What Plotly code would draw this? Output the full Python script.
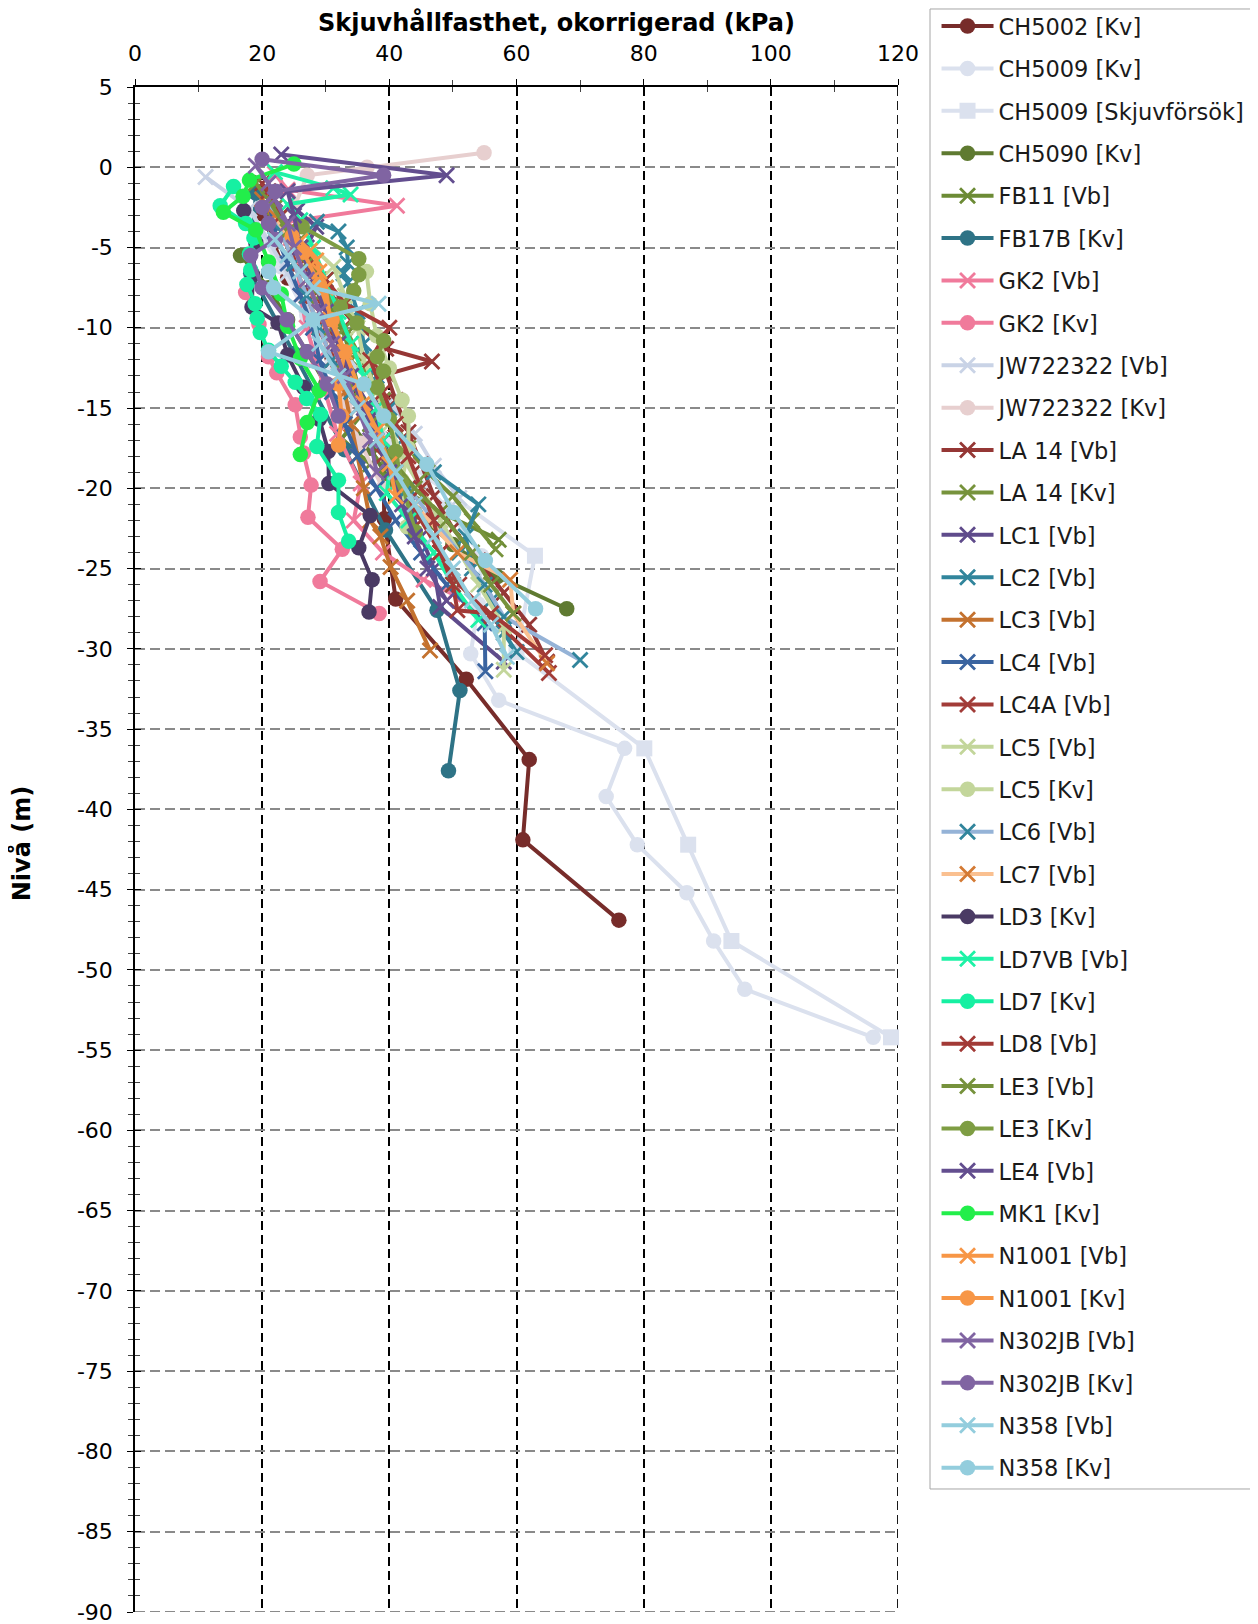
import plotly.graph_objects as go

# ---------------- data (Nivå in m, skjuvhållfasthet in kPa) ----------------
ch5002_kv_niva = [-2.9, -6.9, -11.9, -16.9, -21.9, -26.9, -31.9, -36.9, -41.9, -46.9]
ch5002_kv_tau = [20, 24, 31, 39, 39.2, 41, 52.1, 62, 61, 76.1]

ch5009_kv_niva = [-3.2, -6.2, -9.2, -12.2, -15.2, -18.2, -21.2, -24.2, -27.2, -30.3, -33.2, -36.2,
                  -39.2, -42.2, -45.2, -48.2, -51.2, -54.2]
ch5009_kv_tau = [18, 23, 27, 31, 36, 42, 49, 54.5, 54, 52.8, 57.2, 77, 74.1, 79, 86.8, 91, 95.9, 116.1]

ch5009_skj_niva = [-12.2, -18.2, -24.2, -30.2, -36.2, -42.2, -48.2, -54.2]
ch5009_skj_tau = [32, 42, 62.9, 60, 80.1, 87, 93.8, 118.9]

ch5090_kv_niva = [-5.5, -7.5, -9.5, -11.5, -13.5, -15.5, -17.5, -19.5, -21.5, -23.5, -25.5, -27.5]
ch5090_kv_tau = [16.6, 21, 24, 27, 30, 33, 37, 40, 44, 50, 57, 67.9]

fb11_vb_niva = [-1.5, -3, -4.5, -6, -7.5, -9, -10.5, -12, -13.5, -15, -16.9, -18.5, -20, -21.5, -23.2]
fb11_vb_tau = [20, 23, 26, 28, 30, 31, 33, 34, 35, 36.5, 32.5, 37, 42, 48, 57.2]

fb17b_kv_niva = [-1.6, -6.6, -11.6, -17.6, -22.6, -27.6, -32.6, -37.6]
fb17b_kv_tau = [19, 18.2, 25, 33, 39.4, 47.5, 51.1, 49.3]

gk2_vb_niva = [-0.4, -1.4, -2.4, -3.4, -4.4, -6, -8, -10, -12, -14, -16.6, -19.7, -22, -24, -25.7, -26.6]
gk2_vb_tau = [22, 24, 41.2, 24, 24.5, 25.5, 26, 27, 28.5, 30, 31.8, 35.5, 34.4, 39, 45.4, 50]

gk2_kv_niva = [-7.8, -9.8, -11.8, -12.8, -14.8, -16.8, -17.8, -19.8, -21.8, -23.8, -25.8, -27.8]
gk2_kv_tau = [17.4, 19.5, 21, 22.3, 25.2, 26, 26.5, 27.7, 27.2, 32.6, 29.1, 38.4]

jw722322_vb_niva = [-0.6, -2.6, -4.6, -6.6, -8.6, -10.6, -12.6, -14.6, -16.6, -18.6, -20.6]
jw722322_vb_tau = [11.1, 18, 21, 24, 27, 31, 35, 40, 44, 47, 51]

jw722322_kv_niva = [0.9, 0, -0.5, -2.5, -5, -7.5, -10, -12.5, -15, -17.2, -20]
jw722322_kv_tau = [54.9, 36.5, 27.1, 25, 26, 28, 30, 32, 33, 35.5, 39]

la14_vb_niva = [-1, -3, -5, -7, -9.5, -11.3, -12.1, -12.9, -14.5, -16.5, -18.5, -20.5, -22.5, -24.5,
                -26.5, -28.5, -30.8]
la14_vb_tau = [20, 22, 25, 29, 34, 39.5, 46.7, 39.6, 41, 43, 45, 47, 50, 54, 58, 62, 64.8]

la14_kv_niva = [-1, -2.5, -4, -5.5, -7, -8.5, -10, -11.5, -13, -14.5, -16, -17.5, -19, -20.5, -22, -23.8]
la14_kv_tau = [19, 22, 25, 27, 29, 31, 33, 35, 37, 39, 41, 43, 46, 50, 53, 56.7]

lc1_vb_niva = [-2.7, -3.7, -5, -7, -9, -11, -13, -15, -17, -19, -21, -23, -25, -27.4, -30.8]
lc1_vb_tau = [25.5, 28.5, 27, 28, 30, 32, 34, 37, 39, 41, 43, 45, 47, 48, 58]

lc2_vb_niva = [-3.4, -4, -5, -6, -6.6, -7.2, -9, -11, -13, -15, -17, -19, -21, -23, -25, -27, -29, -30.2]
lc2_vb_tau = [28.6, 32, 33.3, 33.5, 32.8, 33.5, 35, 36, 38, 40, 42, 47, 54, 52, 53, 56, 58, 60]

lc3_vb_niva = [-2, -4, -6, -8, -10, -12, -14, -16, -18, -20, -22, -23, -24.9, -27, -30.1]
lc3_vb_tau = [20, 23, 25, 27, 29, 31, 33, 34, 35, 36, 37, 38.6, 40.2, 42.8, 46.4]

lc4_vb_niva = [-2, -4, -6, -8, -10, -12, -14, -16, -18, -20, -22, -24, -26, -28.4, -31.4]
lc4_vb_tau = [21, 22, 24, 26, 28, 29, 31, 33, 35, 38, 41, 45, 49, 55, 55.1]

lc4a_vb_niva = [-2, -4, -6, -8, -10, -12, -14, -16, -18, -20, -22, -24, -26, -28, -31.5]
lc4a_vb_tau = [22, 24, 26, 28, 30, 32, 35, 37, 39, 42, 45, 48, 51, 56, 65.1]

lc5_vb_niva = [-5, -6.2, -8, -10, -12, -14, -16, -18, -20, -22, -24, -26, -28.6, -31.3]
lc5_vb_tau = [28, 31.2, 33, 35, 36, 38, 40, 42, 45, 48, 51, 54, 58, 58]

lc5_kv_niva = [-6.5, -8.5, -10.5, -12.5, -14.5, -15.5, -17.5, -19.5, -22.4]
lc5_kv_tau = [36.4, 37, 38, 40, 42, 43, 43, 42, 42.8]

lc6_vb_niva = [-2, -4, -6, -8, -10, -12, -14, -16, -18, -20, -22, -24, -26, -28, -30.7]
lc6_vb_tau = [21, 23, 25, 27, 29, 31, 34, 37, 40, 43, 47, 51, 55, 58, 70]

lc7_vb_niva = [-3, -5, -7, -9, -11, -13, -15, -17, -19, -21, -24, -25.7, -27.8, -30.9]
lc7_vb_tau = [22, 25, 27, 29, 31, 33, 35, 38, 41, 44, 50.7, 59, 59.5, 64.8]

ld3_kv_niva = [-2.7, -4.7, -6.7, -8.7, -9.7, -11.7, -13.7, -15.7, -17.7, -19.7, -21.7, -23.7, -25.7, -27.7]
ld3_kv_tau = [17.1, 19, 18.5, 18.4, 22.5, 24, 26.5, 29, 30.4, 30.5, 37, 35.2, 37.3, 36.8]

ld7vb_vb_niva = [-0.3, -1.3, -1.7, -2.3, -3.3, -5, -7, -9, -11, -13, -15, -17, -19, -20.3, -22, -24, -26, -28.2]
ld7vb_vb_tau = [22, 31.2, 33.9, 24, 26, 28, 30, 32, 34, 36, 38, 39, 40, 39.6, 43, 47, 50, 54]

ld7_kv_niva = [-1.2, -2.4, -3.5, -4.4, -5.4, -6.4, -7.3, -8.5, -9.4, -10.3, -11.4, -12.4, -13.4, -14.4,
               -15.4, -17.4, -19.5, -21.5, -23.3]
ld7_kv_tau = [15.5, 13.4, 17.4, 18.7, 18, 18.2, 17.6, 18.9, 19.2, 19.7, 21, 23, 25.2, 27, 29.2, 28.6, 32, 32, 33.6]

ld8_vb_niva = [-1.5, -3, -5, -7, -8.5, -10, -12, -14, -16, -18, -20, -22, -24, -26, -27.6, -27.8, -30.4]
ld8_vb_tau = [21, 23, 26, 30, 33, 40, 37, 39, 41, 43, 45, 47, 48, 50, 50.7, 56, 64.5]

le3_vb_niva = [-2, -4, -6, -8, -10, -12, -14, -16, -18, -20, -22, -24, -26, -27.8]
le3_vb_tau = [21, 24, 27, 29, 31, 33, 35, 37, 40, 44, 49, 53, 56, 59.5]

le3_kv_niva = [-3.7, -5.7, -6.7, -7.7, -8.7, -9.7, -10.8, -11.8, -12.7, -13.7, -15.7, -17.7, -19.7, -22.7]
le3_kv_tau = [26.3, 35.2, 35.2, 34.4, 32.3, 34.9, 39.1, 38.1, 39.1, 38.1, 40, 41, 42, 44.1]

le4_vb_niva = [0.8, -0.5, -1.5, -3, -5, -7, -9, -11, -13, -15, -17, -19, -21, -23, -25, -27]
le4_vb_tau = [23, 49, 24, 25, 26, 28, 30, 32, 34, 36, 38, 40, 42, 44, 46, 49]

mk1_kv_niva = [0.2, -0.8, -1.8, -2.8, -3.9, -5.9, -7.9, -9.9, -11.9, -13.9, -15.9, -17.9]
mk1_kv_tau = [25, 18, 17, 13.9, 19, 21, 23, 24, 26, 29, 27.1, 26]

n1001_vb_niva = [-4.6, -5.2, -5.8, -6.5, -7.5, -9.5, -11.5, -13.5, -14.7, -16.4, -18.5, -20.5]
n1001_vb_tau = [26, 27.5, 28.5, 29, 30, 30.7, 33, 35, 35.9, 38.1, 40, 41]

n1001_kv_niva = [-4.3, -5.3, -7.3, -9.5, -11.5, -13.5, -15.5, -17.3]
n1001_kv_tau = [24.7, 26.5, 29, 31, 33, 32, 32.5, 32]

n302jb_vb_niva = [0.1, -1, -2, -3.5, -5, -7, -9, -11, -13, -15, -17, -19]
n302jb_vb_tau = [19, 21, 22, 24, 25, 27, 29, 31, 33, 35, 37, 38]

n302jb_kv_niva = [0.5, -0.5, -1.5, -2.5, -3.5, -4.5, -5.5, -7.5, -9.5, -11.5, -13.5, -15.5]
n302jb_kv_tau = [20, 39.1, 22.1, 20, 21, 22.1, 18.2, 20, 23.9, 27.1, 30.2, 32]

n358_vb_niva = [-4.5, -5.5, -6.5, -7.5, -8.5, -9.5, -11, -13, -15, -17, -19, -21, -23, -25, -27, -28.5, -30.5]
n358_vb_tau = [22, 24, 26, 28, 38.3, 28, 29, 32, 35, 38, 41, 44, 47, 50, 53, 56, 58.5]

n358_kv_niva = [-6.5, -7.5, -9.5, -11.5, -13.5, -15.5, -18.5, -21.5, -24.5, -27.5]
n358_kv_tau = [21, 21.8, 28, 21, 36, 39.1, 45.9, 50.1, 55.1, 63]

x_ticks = [0, 20, 40, 60, 80, 100, 120]
y_ticks = list(range(5, -91, -5))

# ---------------- series styling ----------------
series = [
    ("CH5002 [Kv]", ch5002_kv_tau, ch5002_kv_niva, "#772c2a", "#772c2a", "circle"),
    ("CH5009 [Kv]", ch5009_kv_tau, ch5009_kv_niva, "#dbe1ee", "#dbe1ee", "circle"),
    ("CH5009 [Skjuvförsök]", ch5009_skj_tau, ch5009_skj_niva, "#dbe1ee", "#dbe1ee", "square"),
    ("CH5090 [Kv]", ch5090_kv_tau, ch5090_kv_niva, "#5f7a31", "#5f7a31", "circle"),
    ("FB11 [Vb]", fb11_vb_tau, fb11_vb_niva, "#6c8b35", "#6c8b35", "x"),
    ("FB17B [Kv]", fb17b_kv_tau, fb17b_kv_niva, "#2e7386", "#2e7386", "circle"),
    ("GK2 [Vb]", gk2_vb_tau, gk2_vb_niva, "#f07a9b", "#f07a9b", "x"),
    ("GK2 [Kv]", gk2_kv_tau, gk2_kv_niva, "#f07a9b", "#f07a9b", "circle"),
    ("JW722322 [Vb]", jw722322_vb_tau, jw722322_vb_niva, "#c9d3e6", "#c9d3e6", "x"),
    ("JW722322 [Kv]", jw722322_kv_tau, jw722322_kv_niva, "#e7cfcf", "#e7cfcf", "circle"),
    ("LA 14 [Vb]", la14_vb_tau, la14_vb_niva, "#953735", "#953735", "x"),
    ("LA 14 [Kv]", la14_kv_tau, la14_kv_niva, "#77933c", "#77933c", "x"),
    ("LC1 [Vb]", lc1_vb_tau, lc1_vb_niva, "#5f4b8b", "#5f4b8b", "x"),
    ("LC2 [Vb]", lc2_vb_tau, lc2_vb_niva, "#31859c", "#31859c", "x"),
    ("LC3 [Vb]", lc3_vb_tau, lc3_vb_niva, "#c4722f", "#c4722f", "x"),
    ("LC4 [Vb]", lc4_vb_tau, lc4_vb_niva, "#3a64a0", "#3a64a0", "x"),
    ("LC4A [Vb]", lc4a_vb_tau, lc4a_vb_niva, "#a23c38", "#a23c38", "x"),
    ("LC5 [Vb]", lc5_vb_tau, lc5_vb_niva, "#c3d69b", "#c3d69b", "x"),
    ("LC5 [Kv]", lc5_kv_tau, lc5_kv_niva, "#c3d69b", "#c3d69b", "circle"),
    ("LC6 [Vb]", lc6_vb_tau, lc6_vb_niva, "#95b3d7", "#31859c", "x"),
    ("LC7 [Vb]", lc7_vb_tau, lc7_vb_niva, "#fac090", "#d47a34", "x"),
    ("LD3 [Kv]", ld3_kv_tau, ld3_kv_niva, "#4a3a64", "#4a3a64", "circle"),
    ("LD7VB [Vb]", ld7vb_vb_tau, ld7vb_vb_niva, "#1ef2a6", "#1ef2a6", "x"),
    ("LD7 [Kv]", ld7_kv_tau, ld7_kv_niva, "#16f0a2", "#16f0a2", "circle"),
    ("LD8 [Vb]", ld8_vb_tau, ld8_vb_niva, "#a23a36", "#a23a36", "x"),
    ("LE3 [Vb]", le3_vb_tau, le3_vb_niva, "#76923c", "#76923c", "x"),
    ("LE3 [Kv]", le3_kv_tau, le3_kv_niva, "#7e9d43", "#7e9d43", "circle"),
    ("LE4 [Vb]", le4_vb_tau, le4_vb_niva, "#634e8f", "#634e8f", "x"),
    ("MK1 [Kv]", mk1_kv_tau, mk1_kv_niva, "#22ee4a", "#22ee4a", "circle"),
    ("N1001 [Vb]", n1001_vb_tau, n1001_vb_niva, "#f79646", "#f79646", "x"),
    ("N1001 [Kv]", n1001_kv_tau, n1001_kv_niva, "#f79646", "#f79646", "circle"),
    ("N302JB [Vb]", n302jb_vb_tau, n302jb_vb_niva, "#8064a2", "#8064a2", "x"),
    ("N302JB [Kv]", n302jb_kv_tau, n302jb_kv_niva, "#8064a2", "#8064a2", "circle"),
    ("N358 [Vb]", n358_vb_tau, n358_vb_niva, "#93cddd", "#93cddd", "x"),
    ("N358 [Kv]", n358_kv_tau, n358_kv_niva, "#93cddd", "#93cddd", "circle"),
]

FONT = "DejaVu Sans"
fig = go.Figure()

for i, (name, xs, ys, lc, mc, sym) in enumerate(series):
    if sym == "x":
        marker = dict(symbol="x-thin", size=15, color=mc, line=dict(width=2.8, color=mc))
    elif sym == "square":
        marker = dict(symbol="square", size=16, color=mc, line=dict(width=0))
    else:
        marker = dict(symbol="circle", size=15.5, color=mc, line=dict(width=0))
    fig.add_trace(go.Scatter(
        x=xs, y=ys, name=name, mode="lines+markers",
        line=dict(color=lc, width=4), marker=marker,
        legendgroup=f"g{i}", cliponaxis=False,
    ))

# invisible trace binding the overlay axes (used for inward tick marks)
fig.add_trace(go.Scatter(x=[0], y=[5], xaxis="x2", yaxis="y2", mode="markers",
                         marker=dict(opacity=0), showlegend=False, hoverinfo="skip"))

tickfont = dict(family=FONT, size=22, color="black")

# the page adds an 8 px body margin, so the figure is 8 px smaller on each axis
fig.update_layout(
    width=1250, height=1616,
    margin=dict(l=127, r=360, t=79, b=12, autoexpand=False),
    paper_bgcolor="white", plot_bgcolor="white",
    font=dict(family=FONT, color="black"),
    showlegend=True,
    legend=dict(
        x=1.0505, y=0.0807, xanchor="left", yanchor="bottom",
        bgcolor="rgba(0,0,0,0)", borderwidth=0,
        font=dict(family=FONT, size=22.5, color="#1a1a1a"),
        tracegroupgap=10.15, itemwidth=52,
    ),
    xaxis=dict(
        side="top", range=[0, 120], tickvals=x_ticks, ticktext=[str(v) for v in x_ticks],
        showline=True, linecolor="black", linewidth=1.5,
        ticks="outside", ticklen=6, tickwidth=1.2, tickcolor="black",
        minor=dict(dtick=10, ticks="outside", ticklen=5, tickwidth=1, tickcolor="#444", showgrid=False),
        showgrid=True, gridcolor="black", gridwidth=1.8, griddash="9px,5px",
        zeroline=False, tickfont=tickfont, ticklabelstandoff=9, ticklabeloverflow="allow",
    ),
    yaxis=dict(
        range=[-90, 5], tickvals=y_ticks, ticktext=[str(v) for v in y_ticks],
        showline=True, linecolor="black", linewidth=1.5,
        ticks="outside", ticklen=6, tickwidth=1.2, tickcolor="black",
        minor=dict(dtick=1, ticks="outside", ticklen=5, tickwidth=1, tickcolor="#444", showgrid=False),
        showgrid=True, gridcolor="#8a8a8a", gridwidth=1.8, griddash="10px,5px",
        zeroline=False, tickfont=tickfont, ticklabelstandoff=10, ticklabeloverflow="allow",
    ),
    xaxis2=dict(
        overlaying="x", side="top", anchor="y", range=[0, 120], tickvals=x_ticks,
        ticks="inside", ticklen=6, tickwidth=1.2, tickcolor="black",
        minor=dict(dtick=10, ticks="inside", ticklen=5, tickwidth=1, tickcolor="#444"),
        showticklabels=False, showgrid=False, showline=False, zeroline=False,
    ),
    yaxis2=dict(
        overlaying="y", side="left", anchor="x", range=[-90, 5], tickvals=y_ticks,
        ticks="inside", ticklen=6, tickwidth=1.2, tickcolor="black",
        minor=dict(dtick=1, ticks="inside", ticklen=5, tickwidth=1, tickcolor="#444"),
        showticklabels=False, showgrid=False, showline=False, zeroline=False,
    ),
    shapes=[
        dict(type="line", xref="x", yref="paper", x0=120, x1=120, y0=1, y1=0, layer="below",
             line=dict(color="black", width=1.8, dash="9px,5px")),
        dict(type="line", xref="paper", yref="y", x0=0, x1=1, y0=-90, y1=-90, layer="below",
             line=dict(color="#8a8a8a", width=1.8, dash="10px,5px")),
        # legend frame
        dict(type="rect", xref="paper", yref="paper", x0=1.04194, x1=1.46920, y0=0.08066, y1=1.05115,
             layer="below", fillcolor="white", line=dict(color="#a6a6a6", width=1)),
    ],
    annotations=[
        dict(text="<b>Skjuvhållfasthet, okorrigerad (kPa)</b>", xref="paper", yref="paper",
             x=0.5518, y=1.042, xanchor="center", yanchor="middle", showarrow=False,
             font=dict(family=FONT, size=24, color="black")),
        dict(text="<b>Nivå (m)</b>", xref="paper", yref="paper",
             x=-0.149, y=0.5036, xanchor="center", yanchor="middle", showarrow=False,
             textangle=-90, font=dict(family=FONT, size=24, color="black")),
    ],
)

fig.write_html("out.html")
